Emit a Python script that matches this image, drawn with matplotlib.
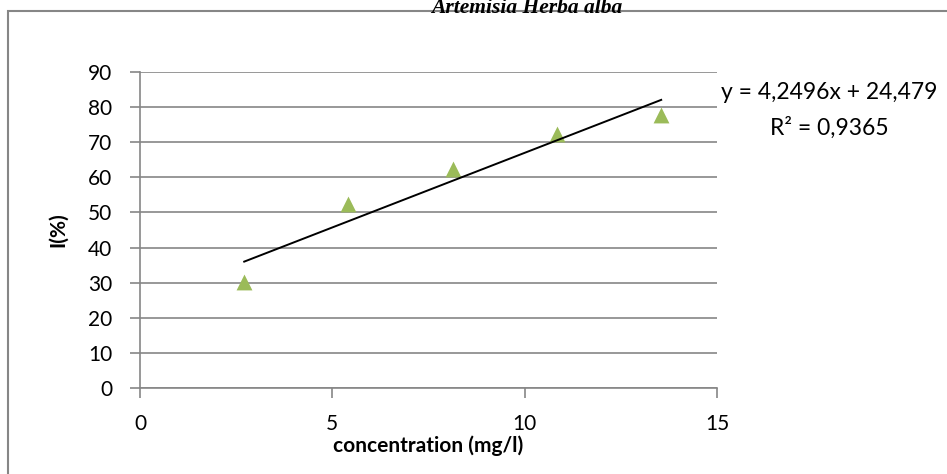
import numpy as np
import matplotlib.pyplot as plt
from matplotlib.patches import Rectangle

# measured inhibition vs. extract concentration
concentration = [2.71, 5.42, 8.13, 10.84, 13.55]
inhibition = [30.3, 52.3, 62.5, 72.3, 77.8]

# linear trendline coefficients
slope = 4.2496
intercept = 24.479
r_squared = 0.9365

x_ticks = [0, 5, 10, 15]
y_ticks = list(range(0, 91, 10))

grey = "#868686"
plt.rcParams["font.family"] = ["Lato", "DejaVu Sans"]

fig = plt.figure(figsize=(9.47, 4.74), dpi=100)
ax = fig.add_axes([0.1478, 0.1814, 0.6093, 0.6667])

# chart frame (runs off the right and bottom edges)
fig.patches.append(Rectangle((7.5 / 947, -0.1), 1.1, 1 - 11.5 / 474 + 0.1,
                             transform=fig.transFigure, fill=False,
                             edgecolor=grey, linewidth=1.5))

ax.scatter(concentration, inhibition, marker="^", s=130, color="#9BBB59",
           zorder=3, linewidths=0)

xs = np.array([concentration[0], concentration[-1]])
ax.plot(xs, slope * xs + intercept, color="black", linewidth=1.4, zorder=4)

ax.set_xlim(0, 15)
ax.set_ylim(0, 90)
ax.set_xticks(x_ticks)
ax.set_yticks(y_ticks)
ax.yaxis.grid(True, color=grey, linewidth=1.2)
ax.set_axisbelow(True)

for side in ["top", "right"]:
    ax.spines[side].set_visible(False)
for side in ["left", "bottom"]:
    ax.spines[side].set_color(grey)
    ax.spines[side].set_linewidth(1.2)
ax.tick_params(direction="out", length=7, width=1.2, color=grey, labelsize=15)
ax.tick_params(axis="x", pad=12)
ax.tick_params(axis="y", pad=13)

ax.set_xlabel("concentration (mg/l)", fontsize=15, fontweight="bold", labelpad=1)
ax.set_ylabel("I(%)", fontsize=15, fontweight="bold", labelpad=14)

fig.text(0.876, 0.804, f"y = {slope:.4f}x + {intercept:.3f}".replace(".", ","),
         ha="center", va="center", fontsize=16.5)
fig.text(0.876, 0.730, f"R² = {r_squared:.4f}".replace(".", ","),
         ha="center", va="center", fontsize=16.5)

fig.text(0.556, 0.973, "Artemisia Herba alba", ha="center", va="baseline",
         fontsize=15.5, fontweight="bold", fontstyle="italic",
         family=["Liberation Serif", "DejaVu Serif"])

fig.savefig("out.png", dpi=100)
